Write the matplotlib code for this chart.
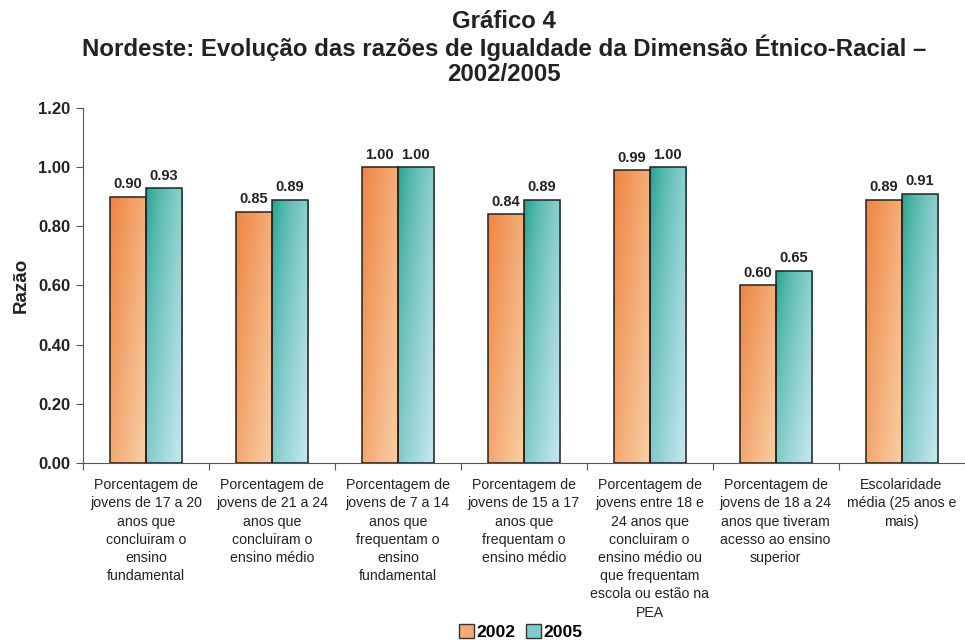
import numpy as np
import matplotlib
matplotlib.use("Agg")
import matplotlib.pyplot as plt
from matplotlib.patches import Patch

# --- Data ---
categories = [
    "Porcentagem de\njovens de 17 a 20\nanos que\nconcluiram o\nensino\nfundamental",
    "Porcentagem de\njovens de 21 a 24\nanos que\nconcluiram o\nensino médio",
    "Porcentagem de\njovens de 7 a 14\nanos que\nfrequentam o\nensino\nfundamental",
    "Porcentagem de\njovens de 15 a 17\nanos que\nfrequentam o\nensino médio",
    "Porcentagem de\njovens entre 18 e\n24 anos que\nconcluiram o\nensino médio ou\nque frequentam\nescola ou estão na\nPEA",
    "Porcentagem de\njovens de 18 a 24\nanos que tiveram\nacesso ao ensino\nsuperior",
    "Escolaridade\nmédia (25 anos e\nmais)",
]
values_2002 = [0.90, 0.85, 1.00, 0.84, 0.99, 0.60, 0.89]
values_2005 = [0.93, 0.89, 1.00, 0.89, 1.00, 0.65, 0.91]
series_labels = ["2002", "2005"]
yticks = [0.0, 0.2, 0.4, 0.6, 0.8, 1.0, 1.2]

# gradient colours (dark top-left -> light bottom-right), exponent shapes the blend
ORANGE = ((0.94, 0.52, 0.26), (0.97, 0.82, 0.66), 1.0)
TEAL = ((0.09, 0.62, 0.52), (0.78, 0.91, 0.95), 0.65)

plt.rcParams['font.family'] = ['Liberation Sans', 'DejaVu Sans']


def gradient_img(cols, n=120):
    dark, light, gamma = np.array(cols[0]), np.array(cols[1]), cols[2]
    xx, yy = np.meshgrid(np.linspace(0, 1, n), np.linspace(0, 1, n))
    # yy: 0 at top row (imshow origin upper)
    t = np.clip(0.55 * xx + 0.45 * yy, 0, 1) ** gamma
    return dark[None, None, :] * (1 - t[..., None]) + light[None, None, :] * t[..., None]


fig = plt.figure(figsize=(9.65, 6.4), dpi=100)
ax = fig.add_axes([0.086, 0.2766, 0.9135, 0.5547])

x = np.arange(len(categories))
w = 0.286
for vals, off, cols in [(values_2002, -w / 2, ORANGE), (values_2005, w / 2, TEAL)]:
    bars = ax.bar(x + off, vals, w, facecolor='none', edgecolor='#222222', linewidth=1.1, zorder=3)
    img = gradient_img(cols)
    for b, v in zip(bars, vals):
        x0 = b.get_x()
        im = ax.imshow(img, extent=[x0, x0 + w, 0, v], aspect='auto', zorder=2, interpolation='bilinear')
        im.set_clip_path(b)
        ax.text(x0 + w / 2, v + 0.018, f"{v:.2f}", ha='center', va='bottom',
                fontsize=10.5, fontweight='bold', color='#222222')

ax.set_xlim(-0.5, len(categories) - 0.5)
ax.set_ylim(0, 1.2)
ax.set_yticks(yticks)
ax.set_yticklabels([f"{t:.2f}" for t in yticks], fontsize=12, fontweight='bold', color='#222222')

ax.set_xticks(np.arange(-0.5, len(categories)), [])
ax.set_xticks(x, categories, minor=True)
ax.tick_params(axis='x', which='minor', length=0, pad=11, labelsize=10.2, labelcolor='#222222')
ax.tick_params(axis='x', which='major', length=5, direction='out', color='#555555')
ax.tick_params(axis='y', length=5, direction='out', color='#555555', pad=4)
for lbl in ax.get_xticklabels(minor=True):
    lbl.set_linespacing(1.38)

for s in ['top', 'right']:
    ax.spines[s].set_visible(False)
for s in ['left', 'bottom']:
    ax.spines[s].set_color('#555555')

ax.set_ylabel("Razão", fontsize=13.5, fontweight='bold', labelpad=6, color='#222222')

fig.text(0.522, 0.984, "Gráfico 4\nNordeste: Evolução das razões de Igualdade da Dimensão Étnico-Racial –\n2002/2005",
         ha='center', va='top', fontsize=17.3, fontweight='bold', color='#222222', linespacing=1.08)

handles = [Patch(facecolor=(0.96, 0.66, 0.47), edgecolor='#333333'),
           Patch(facecolor=(0.50, 0.80, 0.80), edgecolor='#333333')]
fig.legend(handles, series_labels, loc='lower center', bbox_to_anchor=(0.54, -0.024), ncol=2,
           frameon=False, prop={'weight': 'bold', 'size': 12.6}, handlelength=0.85, handleheight=0.85,
           handletextpad=0.15, columnspacing=0.6)

fig.savefig("out.png", dpi=100)
